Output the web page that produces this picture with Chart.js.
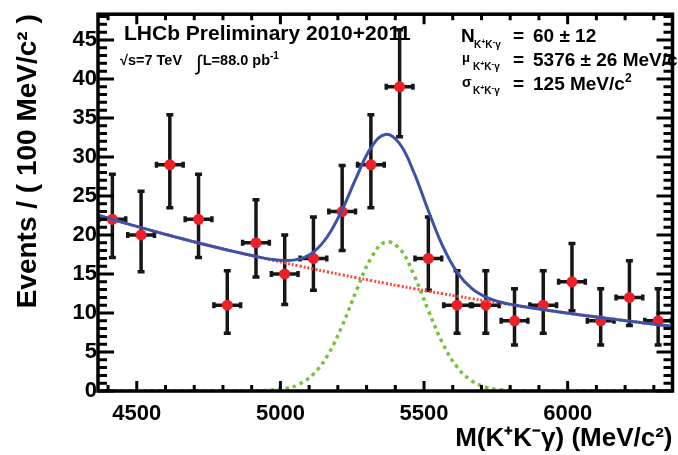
<!DOCTYPE html>
<html>
<head>
<meta charset="utf-8">
<script src="https://cdn.jsdelivr.net/npm/chart.js@4/dist/chart.umd.min.js"></script>
<style>
  html, body { margin: 0; padding: 0; background: #fff; }
  #wrap { width: 678px; height: 455px; }
</style>
</head>
<body>
<div id="wrap"><canvas id="myChart" width="678" height="455"></canvas></div>
<script>
// B -> K+K-gamma candidates, 100 MeV/c^2 bins
const binWidth = 100;
const binCenters = [4415, 4515, 4615, 4715, 4815, 4915, 5015, 5115, 5215, 5315,
                    5415, 5515, 5615, 5715, 5815, 5915, 6015, 6115, 6215, 6315];
const counts  = [22, 20, 29, 22, 11, 19, 15, 17, 23, 29, 39, 17, 11, 11, 9, 11, 14, 9, 12, 9];
// asymmetric (Poisson) error bar ends
const errLow  = [17.1, 15.3, 23.5, 17.1, 7.4, 14.6, 11.1, 12.9, 18.0, 23.5,
                 32.6, 12.9, 7.4, 7.4, 5.9, 7.4, 10.3, 5.9, 8.4, 5.9];
const errHigh = [27.8, 25.6, 35.4, 27.8, 15.4, 24.5, 20.0, 22.3, 28.9, 35.4,
                 46.3, 22.3, 15.4, 15.4, 13.1, 15.4, 18.9, 13.1, 16.7, 13.1];

// background component of the fit, sampled every 50 MeV
const curveMass = [4365, 4415, 4465, 4515, 4565, 4615, 4665, 4715, 4765, 4815, 4865,
                   4915, 4965, 5015, 5065, 5115, 5165, 5215, 5265, 5315, 5365,
                   5415, 5465, 5515, 5565, 5615, 5665, 5715, 5765, 5815, 5865,
                   5915, 5965, 6015, 6065, 6115, 6165, 6215, 6265, 6315, 6365];
const bkgCurve  = [22.55, 22.00, 21.46, 20.94, 20.43, 19.93, 19.45, 18.98, 18.53, 18.08, 17.65,
                   17.23, 16.82, 16.42, 16.03, 15.64, 15.26, 14.89, 14.52, 14.16, 13.81,
                   13.46, 13.12, 12.79, 12.47, 12.16, 11.85, 11.55, 11.26, 10.98, 10.70,
                   10.43, 10.17, 9.91, 9.66, 9.42, 9.18, 8.95, 8.72, 8.50, 8.29];

// signal gaussian from the fit result
const sigYield = 60;
const sigMean = 5376;
const sigWidth = 125;

const massTicks = [4500, 5000, 5500, 6000];
const eventTicks = [0, 5, 10, 15, 20, 25, 30, 35, 40, 45];

const sigPeak = sigYield * binWidth / (sigWidth * Math.sqrt(2 * Math.PI));
const sigCurve = curveMass.map(m => sigPeak * Math.exp(-0.5 * Math.pow((m - sigMean) / sigWidth, 2)));
const totalCurve = curveMass.map((m, i) => bkgCurve[i] + sigCurve[i]);

const FONT = '"Liberation Sans", Arial, Helvetica, sans-serif';
const INK = '#161616';

const errorBars = {
    id: 'errorBars',
    beforeDatasetsDraw(chart) {
        const { ctx, chartArea, scales: { x, y } } = chart;
        ctx.save();
        ctx.beginPath();
        ctx.rect(chartArea.left, chartArea.top, chartArea.right - chartArea.left, chartArea.bottom - chartArea.top);
        ctx.clip();
        ctx.strokeStyle = INK;
        ctx.lineWidth = 3.5;
        ctx.lineCap = 'butt';
        binCenters.forEach((m, i) => {
            const px = x.getPixelForValue(m);
            const x0 = x.getPixelForValue(m - binWidth / 2);
            const x1 = x.getPixelForValue(m + binWidth / 2);
            const py = y.getPixelForValue(counts[i]);
            const yLo = y.getPixelForValue(errLow[i]);
            const yHi = y.getPixelForValue(errHigh[i]);
            ctx.beginPath();
            ctx.moveTo(x0, py); ctx.lineTo(x1, py);
            ctx.moveTo(px, yLo); ctx.lineTo(px, yHi);
            // caps
            ctx.moveTo(px - 3.5, yLo); ctx.lineTo(px + 3.5, yLo);
            ctx.moveTo(px - 3.5, yHi); ctx.lineTo(px + 3.5, yHi);
            ctx.moveTo(x0 + 1, py - 3); ctx.lineTo(x0 + 1, py + 3);
            ctx.moveTo(x1 - 1, py - 3); ctx.lineTo(x1 - 1, py + 3);
            ctx.stroke();
        });
        ctx.restore();
    }
};

// inward major/minor ticks on all four sides plus the thick frame
const frame = {
    id: 'frame',
    afterDatasetsDraw(chart) {
        const { ctx, chartArea: a, scales: { x, y } } = chart;
        ctx.save();
        ctx.strokeStyle = '#000';
        ctx.lineWidth = 3;
        ctx.beginPath();
        for (let v = 0; v <= 48; v++) {
            const py = y.getPixelForValue(v);
            const len = v % 5 === 0 ? 16 : 9;
            ctx.moveTo(a.left, py); ctx.lineTo(a.left + len, py);
            ctx.moveTo(a.right, py); ctx.lineTo(a.right - len, py);
        }
        for (let m = 4400; m <= 6300; m += 100) {
            const px = x.getPixelForValue(m);
            const len = m % 500 === 0 ? 10 : 6;
            ctx.moveTo(px, a.bottom); ctx.lineTo(px, a.bottom - len);
            ctx.moveTo(px, a.top); ctx.lineTo(px, a.top + len);
        }
        ctx.stroke();
        ctx.lineWidth = 3.5;
        ctx.strokeRect(a.left, a.top, a.right - a.left, a.bottom - a.top);
        ctx.restore();
    }
};

// draw a run of text pieces: [text, size, baselineShift, weight]
function drawRun(ctx, x, y, pieces) {
    let cx = x;
    pieces.forEach(([t, size, dy, weight]) => {
        ctx.font = `${weight || 'bold'} ${size}px ${FONT}`;
        ctx.fillText(t, cx, y + (dy || 0));
        cx += ctx.measureText(t).width;
    });
    return cx;
}

function kkg(ctx, x, y) {
    return drawRun(ctx, x, y, [['K', 10], ['+', 7, -4], ['K', 10], ['-', 8, -4], ['\u03b3', 10]]);
}

const annotations = {
    id: 'annotations',
    afterDraw(chart) {
        const ctx = chart.ctx;
        ctx.save();
        ctx.fillStyle = '#000';
        ctx.textBaseline = 'alphabetic';
        ctx.textAlign = 'left';
        drawRun(ctx, 124, 40, [['LHCb Preliminary 2010+2011', 21]]);
        drawRun(ctx, 120, 65, [['\u221as=7 TeV', 14.5]]);
        let cx = drawRun(ctx, 196, 70, [['\u222b', 21, 0, 'normal']]);
        drawRun(ctx, cx + 1, 65, [['L=88.0 pb', 14.5], ['-1', 10, -6]]);

        drawRun(ctx, 461, 42, [['N', 19]]);
        kkg(ctx, 474, 48);
        drawRun(ctx, 513, 42, [['=', 19]]);
        drawRun(ctx, 533, 42, [['60 \u00b1 12', 19]]);

        drawRun(ctx, 462, 62, [['\u03bc', 13]]);
        kkg(ctx, 473, 70);
        drawRun(ctx, 513, 66, [['=', 19]]);
        drawRun(ctx, 533, 66, [['5376 \u00b1 26 MeV/c', 19], ['2', 12, -8]]);

        drawRun(ctx, 462, 87, [['\u03c3', 14]]);
        kkg(ctx, 473, 94);
        drawRun(ctx, 513, 90, [['=', 19]]);
        drawRun(ctx, 533, 90, [['125 MeV/c', 19], ['2', 12, -8]]);
        ctx.restore();
    }
};

const ctx = document.getElementById('myChart');

const config = {
    type: 'line',
    data: {
        datasets: [
            {
                label: 'data',
                type: 'scatter',
                data: binCenters.map((m, i) => ({ x: m, y: counts[i] })),
                pointRadius: 5.5,
                pointBackgroundColor: '#ee1f26',
                pointBorderWidth: 0,
                showLine: false,
                order: 3
            },
            {
                label: 'total fit',
                data: curveMass.map((m, i) => ({ x: m, y: totalCurve[i] })),
                borderColor: '#3b52a8',
                borderWidth: 3,
                pointRadius: 0,
                tension: 0.4,
                fill: false,
                order: 0
            },
            {
                label: 'background',
                data: curveMass.map((m, i) => ({ x: m, y: bkgCurve[i] })),
                borderColor: '#ff4433',
                borderWidth: 3,
                borderDash: [2, 2],
                pointRadius: 0,
                tension: 0.4,
                fill: false,
                order: 1
            },
            {
                label: 'signal',
                data: curveMass.map((m, i) => ({ x: m, y: sigCurve[i] })),
                borderColor: '#79c043',
                borderWidth: 3.5,
                borderDash: [3.5, 4],
                pointRadius: 0,
                tension: 0.4,
                fill: false,
                order: 1
            }
        ]
    },
    options: {
        responsive: false,
        animation: false,
        devicePixelRatio: 1,
        layout: { padding: { top: 11, right: 1, left: 0, bottom: 0 } },
        plugins: { legend: { display: false }, tooltip: { enabled: false } },
        scales: {
            x: {
                type: 'linear',
                min: 4365,
                max: 6365,
                afterBuildTicks: s => { s.ticks = massTicks.map(v => ({ value: v })); },
                afterFit: s => { s.height = 64; },
                grid: { display: false, drawTicks: false },
                border: { display: false },
                ticks: {
                    color: '#000', padding: 10, maxRotation: 0,
                    callback: v => String(v),
                    font: { family: FONT, size: 22, weight: 'bold' }
                },
                title: {
                    display: true,
                    text: 'M(K\u207aK\u207b\u03b3) (MeV/c\u00b2)',
                    align: 'end',
                    color: '#000',
                    padding: { top: 0, bottom: 1 },
                    font: { family: FONT, size: 26, weight: 'bold' }
                }
            },
            y: {
                min: 0,
                max: 48.3,
                afterBuildTicks: s => { s.ticks = eventTicks.map(v => ({ value: v })); },
                afterFit: s => { s.width = 98; },
                grid: { display: false, drawTicks: false },
                border: { display: false },
                ticks: { color: '#000', padding: 1, font: { family: FONT, size: 22, weight: 'bold' } },
                title: {
                    display: true,
                    text: 'Events / ( 100 MeV/c\u00b2 )',
                    align: 'end',
                    color: '#000',
                    padding: { top: 11, bottom: 0 },
                    font: { family: FONT, size: 28, weight: 'bold' }
                }
            }
        }
    },
    plugins: [errorBars, frame, annotations]
};

let myChart = new Chart(ctx, config);
</script>
</body>
</html>
